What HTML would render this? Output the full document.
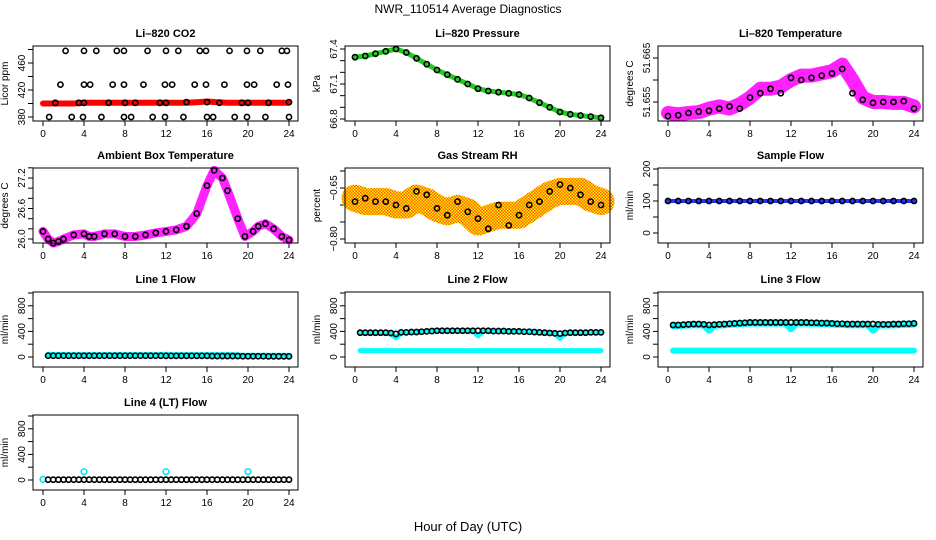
<!DOCTYPE html>
<html><head><meta charset="utf-8">
<style>
body{margin:0;background:#fff;}
svg{display:block;font-family:"Liberation Sans",Arial,sans-serif;}
</style></head>
<body>
<svg id="c" width="936" height="540" viewBox="0 0 936 540" xmlns="http://www.w3.org/2000/svg">
<defs>
<pattern id="rhpat" width="3" height="3" patternUnits="userSpaceOnUse">
<rect width="3" height="3" fill="#ffee00"/><rect width="1.5" height="1.5" fill="#ff6000"/><rect x="1.5" y="1.5" width="1.5" height="1.5" fill="#ff6000"/>
</pattern>
</defs>
<text x="468" y="13" font-size="12" text-anchor="middle">NWR_110514  Average Diagnostics</text>
<text x="468" y="531" font-size="13" text-anchor="middle">Hour of Day (UTC)</text>
</svg>
<script>
// ---- data ----
const xTicks = [0,4,8,12,16,20,24];
const hours = [0,1,2,3,4,5,6,7,8,9,10,11,12,13,14,15,16,17,18,19,20,21,22,23,24];
const halfHours = [0.5,1,1.5,2,2.5,3,3.5,4,4.5,5,5.5,6,6.5,7,7.5,8,8.5,9,9.5,10,10.5,11,11.5,12,12.5,13,13.5,14,14.5,15,15.5,16,16.5,17,17.5,18,18.5,19,19.5,20,20.5,21,21.5,22,22.5,23,23.5,24];

const co2Hours = [2.2,4.0,5.2,7.2,7.9,10.2,12,13.2,15.3,15.9,18.2,19.9,21.2,23.3,23.8, 1.7,4.0,4.6,6.8,7.9,9.8,11.9,12.6,14.8,15.9,17.7,19.9,20.6,22.8,23.9, 0.6,2.8,3.9,5.7,7.9,8.6,10.7,11.9,13.7,16,16.6,18.7,19.9,21.7,24, 1.2,3.5,4,6.4,8,9,11.4,12,14,16,17.2,19.4,20,22,24];
const co2Vals = [478,478,478,478,478,478,478,478,478,478,478,478,478,478,478, 428,428,428,428,428,428,428,428,428,428,428,428,428,428,428, 380,380,380,380,380,380,380,380,380,380,380,380,380,380,380, 401,401,401,401,401,401,401,401,402,402,401,401,401,401,402];
const co2Band = [400,400,400,400,401,401,401,401,401,401,401,401,401,401,401,402,403,402,401,401,401,401,401,401,401];

const pressVals = [67.33,67.34,67.36,67.38,67.40,67.37,67.32,67.27,67.22,67.18,67.14,67.10,67.06,67.04,67.03,67.02,67.01,66.98,66.94,66.90,66.86,66.84,66.83,66.82,66.81];

const tempBand = [51.6525,51.6522,51.6525,51.6527,51.6535,51.654,51.6535,51.6545,51.656,51.658,51.658,51.6585,51.660,51.661,51.661,51.6615,51.662,51.6635,51.660,51.656,51.655,51.655,51.6548,51.6548,51.654];
const tempPts = [51.6518,51.652,51.6525,51.6528,51.653,51.6535,51.654,51.6535,51.656,51.657,51.658,51.657,51.6605,51.660,51.6605,51.661,51.6615,51.6625,51.657,51.6555,51.6548,51.655,51.655,51.6552,51.6535];

const ambHours = [0,0.5,1,1.5,2,3,4,4.5,5,6,7,8,9,10,11,12,13,14,15,16,16.7,17.5,18,19,19.7,20.5,21,21.7,22.5,23.3,24];
const ambVals = [26.15,26.0,25.92,25.95,26.0,26.08,26.1,26.05,26.05,26.1,26.1,26.05,26.05,26.08,26.12,26.15,26.18,26.25,26.5,27.05,27.35,27.2,26.95,26.4,26.05,26.15,26.25,26.3,26.2,26.05,25.98];

const rhBand = [-0.68,-0.69,-0.69,-0.69,-0.70,-0.70,-0.68,-0.69,-0.71,-0.72,-0.71,-0.72,-0.75,-0.74,-0.73,-0.73,-0.73,-0.71,-0.69,-0.67,-0.66,-0.66,-0.66,-0.68,-0.69];
const rhPts = [-0.69,-0.68,-0.69,-0.69,-0.70,-0.71,-0.66,-0.67,-0.71,-0.73,-0.69,-0.72,-0.74,-0.77,-0.70,-0.76,-0.73,-0.70,-0.69,-0.66,-0.64,-0.65,-0.67,-0.69,-0.70];

const sampleVals = [100,100,100,100,100,100,100,100,100,100,100,100,100,100,100,100,100,100,100,100,100,100,100,100,100];

const line1Black = [20,20,20,20,20,20,20,20,20,20,20,20,20,20,20,20,20,20,20,20,20,20,20,18,18,18,18,18,18,18,18,18,15,15,15,15,15,15,12,12,12,12,12,10,10,10,10,10];
const line1Cyan = [35,32,32,32,30,30,30,30,30,30,30,30,30,30,30,30,30,30,30,30,30,30,30,35,30,30,30,30,30,30,30,30,30,30,30,30,30,25,20,20,20,20,20,20,20,20,20,20];

const line2Black = [380,380,380,380,380,380,375,360,385,385,390,390,395,400,405,410,410,410,410,410,410,410,410,410,410,410,405,405,405,400,400,400,395,395,390,385,380,375,370,365,375,380,380,380,380,385,385,385];
const line2Cyan = [370,370,370,370,370,370,360,300,380,380,385,390,395,400,405,410,410,410,410,410,410,410,410,330,410,405,405,405,400,400,400,395,395,390,385,380,375,370,365,290,370,375,375,380,380,380,380,380];
const line2Low = [100,100,100,100,100,100,100,100,100,100,100,100,100,100,100,100,100,100,100,100,100,100,100,100,100,100,100,100,100,100,100,100,100,100,100,100,100,100,100,100,100,100,100,100,100,100,100,100];

const line3Black = [500,500,505,510,515,515,510,500,505,510,515,520,525,530,535,540,540,540,540,540,540,540,540,540,540,540,540,535,535,530,530,525,520,520,515,515,515,515,515,515,510,510,510,515,515,520,520,525];
const line3Cyan = [490,490,495,500,505,505,500,420,495,500,505,510,515,520,525,530,530,530,530,530,530,530,530,440,530,530,530,525,525,520,520,515,510,510,505,505,505,505,505,420,500,500,500,505,505,510,510,515];
const line3Low = [100,100,100,100,100,100,100,100,100,100,100,100,100,100,100,100,100,100,100,100,100,100,100,100,100,100,100,100,100,100,100,100,100,100,100,100,100,100,100,100,100,100,100,100,100,100,100,100];

const line4Black = [5,5,5,5,5,5,5,5,5,5,5,5,5,5,5,5,5,5,5,5,5,5,5,5,5,5,5,5,5,5,5,5,5,5,5,5,5,5,5,5,5,5,5,5,5,5,5,5];
const line4CyanHours = [0,4,12,20];
const line4CyanVals = [10,130,130,130];

const flowTicks = [0,200,400,600,800,1000];
const flowLabels = [0,400,800];

// ---- geometry ----
const svg = document.getElementById('c');
const NS = 'http://www.w3.org/2000/svg';
const colL = [33,345,658];
const rowT = [46,168,292,415];
const BW = 265, BH = 75;

function el(tag, attrs, parent){
  const e = document.createElementNS(NS, tag);
  for (const k in attrs) e.setAttribute(k, attrs[k]);
  (parent||svg).appendChild(e);
  return e;
}

function panel(col,row,title,ylab,d0,p0,d1,p1,yTicks,yLabels,fmt,name){
  const g = el('g',{});
  
  
  const L = colL[col], T = rowT[row];
  const X = h => L + 10 + h*(BW-19)/24;
  const Y = v => p0 + (v-d0)*(p1-p0)/(d1-d0);
  const t = el('text',{x:L+BW/2,y:T-9,'font-size':11,'font-weight':'bold','text-anchor':'middle'},g);
  t.textContent = title;
  
  
  const yl = el('text',{x:0,y:0,'font-size':10,'text-anchor':'middle',transform:`translate(${L-25},${T+BH/2}) rotate(-90)`},g);
  yl.textContent = ylab;
  
  
  const xa = el('g',{},g);
  
  
  el('line',{x1:X(xTicks[0]),x2:X(xTicks[xTicks.length-1]),y1:T+BH,y2:T+BH,stroke:'#000'},xa);
  xTicks.forEach(v=>{
    el('line',{x1:X(v),x2:X(v),y1:T+BH,y2:T+BH+5,stroke:'#000'},xa);
    const tx = el('text',{x:X(v),y:T+BH+16,'font-size':10,'text-anchor':'middle'},xa);
    tx.textContent = v;
  });
  const ya = el('g',{},g);
  
  
  yTicks.forEach(v=>{
    const y = Y(v);
    if (y < T-1 || y > T+BH+1) return;
    el('line',{x1:L-5,x2:L,y1:y,y2:y,stroke:'#000'},ya);
  });
  yLabels.forEach(v=>{
    const y = Y(v);
    const tx = el('text',{x:0,y:0,'font-size':10,'text-anchor':'middle',transform:`translate(${L-8},${y}) rotate(-90)`},ya);
    tx.textContent = fmt(v);
  });
  const plot = el('g',{},g);
  el('rect',{x:L,y:T,width:BW,height:BH,fill:'none',stroke:'#000'},g);
  return {X,Y,plot};
}

function band(p,xs,ys,color,w,name){
  const pts = xs.map((h,i)=>p.X(h).toFixed(1)+','+p.Y(ys[i]).toFixed(1)).join(' ');
  const pl = el('polyline',{points:pts,fill:'none',stroke:color,'stroke-width':w,'stroke-linejoin':'round','stroke-linecap':'round'},p.plot);
  
  
}
function pts(p,xs,ys,color,name,r){
  const g = el('g',{},p.plot);
  
  
  xs.forEach((h,i)=>{
    el('circle',{cx:p.X(h),cy:p.Y(ys[i]),r:r||2.6,fill:'none',stroke:color,'stroke-width':1.6},g);
  });
}

let p = panel(0,0,'Li\u2013820 CO2','Licor ppm',380,117,460,63,[380,400,420,440,460,480],[380,420,460],v=>v,'co2');
band(p,hours,co2Band,'#ff0000',6,'co2-band');
pts(p,co2Hours,co2Vals,'#000','co2-points');

p = panel(1,0,'Li\u2013820 Pressure','kPa',66.8,119,67.4,49,[66.8,66.9,67.0,67.1,67.2,67.3,67.4],[66.8,67.1,67.4],v=>v.toFixed(1),'pressure');
band(p,hours,pressVals,'#22cc22',5,'pressure-line');
pts(p,hours,pressVals,'#000','pressure-points');

p = panel(2,0,'Li\u2013820 Temperature','degrees C',51.655,102,51.665,58,[51.655,51.66,51.665],[51.655,51.665],v=>v.toFixed(3),'temperature');
band(p,hours,tempBand,'#ff22ff',14,'temperature-band');
pts(p,hours,tempPts,'#000','temperature-points');

p = panel(0,1,'Ambient Box Temperature','degrees C',26.0,239,27.2,178,[26.0,26.2,26.4,26.6,26.8,27.0,27.2,27.4],[26.0,26.6,27.2],v=>v.toFixed(1),'ambient');
band(p,ambHours,ambVals,'#ff22ff',9,'ambient-band');
pts(p,ambHours,ambVals,'#000','ambient-points');

p = panel(1,1,'Gas Stream RH','percent',-0.80,239,-0.65,188,[-0.85,-0.80,-0.75,-0.70,-0.65,-0.60],[-0.80,-0.65],v=>v.toFixed(2).replace('-','\u2212'),'rh');
band(p,hours,rhBand,'url(#rhpat)',27,'rh-band');
pts(p,hours,rhPts,'#000','rh-points');

p = panel(2,1,'Sample Flow','ml/min',0,233,200,169,[0,50,100,150,200],[0,100,200],v=>v,'sample-flow');
band(p,hours,sampleVals,'#2233ff',4,'sample-flow-line');
pts(p,hours,sampleVals,'#000','sample-flow-points');

p = panel(0,2,'Line 1 Flow','ml/min',0,357,1000,293,flowTicks,flowLabels,v=>v,'line1-flow');
band(p,halfHours,line1Cyan,'#00ffff',6,'line1-cyan');
pts(p,halfHours,line1Black,'#000','line1-points');

p = panel(1,2,'Line 2 Flow','ml/min',0,357,1000,293,flowTicks,flowLabels,v=>v,'line2-flow');
band(p,halfHours,line2Low,'#00ffff',5,'line2-low-cyan');
band(p,halfHours,line2Cyan,'#00ffff',5,'line2-cyan');
pts(p,halfHours,line2Black,'#000','line2-points');

p = panel(2,2,'Line 3 Flow','ml/min',0,357,1000,293,flowTicks,flowLabels,v=>v,'line3-flow');
band(p,halfHours,line3Low,'#00ffff',6,'line3-low-cyan');
band(p,halfHours,line3Cyan,'#00ffff',7,'line3-cyan');
pts(p,halfHours,line3Black,'#000','line3-points');

p = panel(0,3,'Line 4 (LT) Flow','ml/min',0,480,1000,416,flowTicks,flowLabels,v=>v,'line4-flow');
pts(p,line4CyanHours,line4CyanVals,'#00e5ee','line4-cyan-points',2.8);
pts(p,halfHours,line4Black,'#000','line4-points');
</script>
</body></html>
